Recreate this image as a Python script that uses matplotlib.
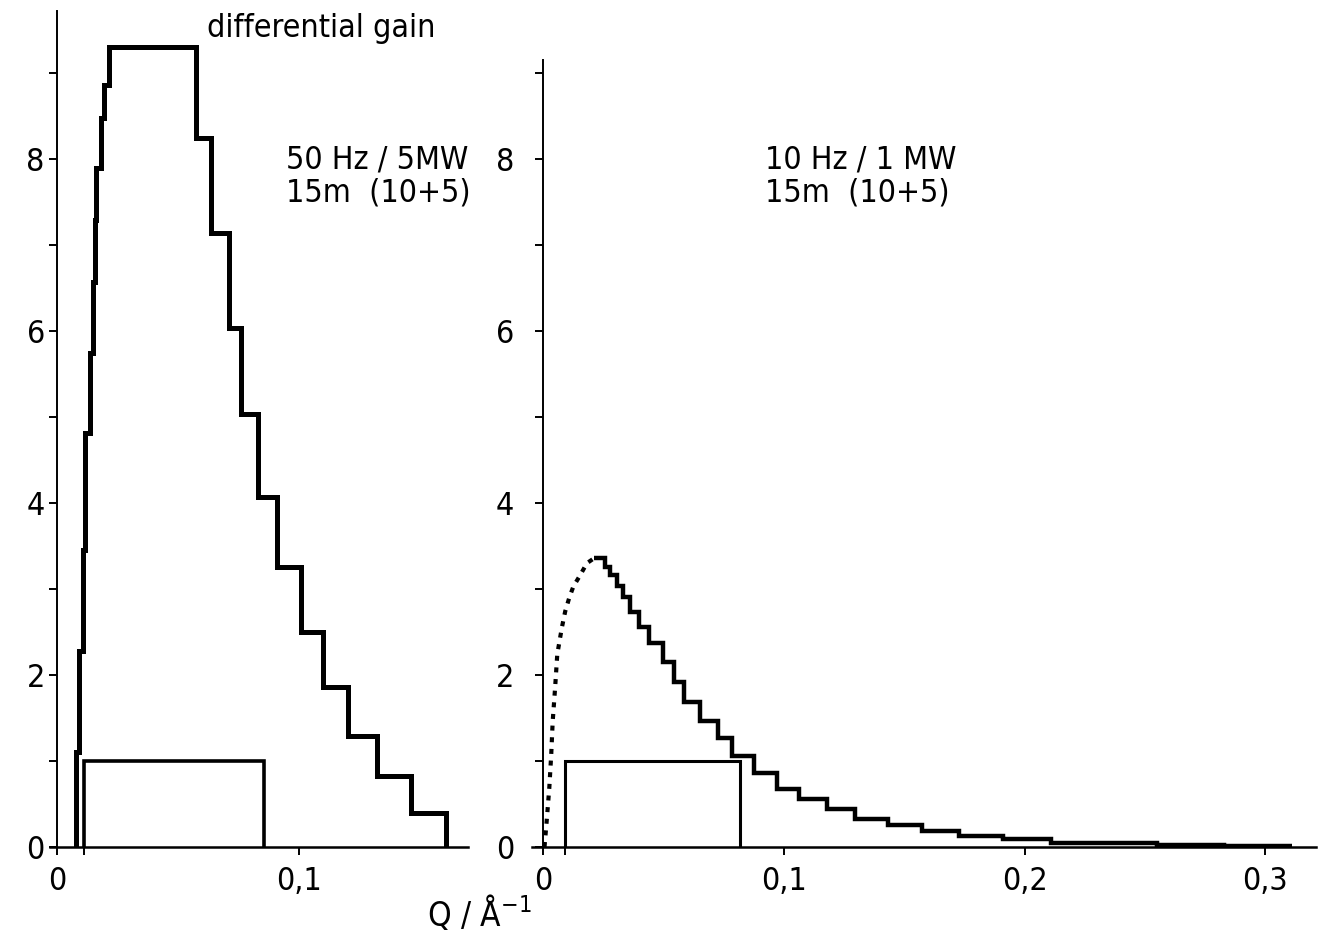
import matplotlib
matplotlib.use("Agg")
import matplotlib.pyplot as plt

# Left panel: 50 Hz / 5 MW
left_edges = [0.0076, 0.0091, 0.0106, 0.0116, 0.0134, 0.0146, 0.0154, 0.0162, 0.0179,
              0.0193, 0.0212, 0.0573, 0.0637, 0.0711, 0.0759, 0.0829, 0.0910, 0.1007,
              0.1098, 0.1204, 0.1325, 0.1466, 0.1610]
left_gain = [1.10, 2.28, 3.45, 4.81, 5.74, 6.57, 7.29, 7.90, 8.48, 8.86, 9.30, 8.24,
             7.14, 6.03, 5.03, 4.07, 3.26, 2.50, 1.86, 1.29, 0.82, 0.39]
left_rect = [0.0109, 0.0855]

# Right panel: 10 Hz / 1 MW
right_edges = [0.0213, 0.0258, 0.0278, 0.0306, 0.0334, 0.0361, 0.0400, 0.0438, 0.0497,
               0.0544, 0.0586, 0.0652, 0.0728, 0.0785, 0.0876, 0.0973, 0.1062, 0.1181,
               0.1296, 0.1432, 0.1575, 0.1727, 0.1911, 0.2108, 0.255, 0.283, 0.311]
right_gain = [3.36, 3.26, 3.16, 3.04, 2.91, 2.73, 2.56, 2.37, 2.15, 1.92, 1.69, 1.46,
              1.27, 1.06, 0.86, 0.68, 0.56, 0.44, 0.33, 0.25, 0.19, 0.125, 0.095,
              0.05, 0.025, 0.01]
right_rect = [0.0092, 0.0820]

# dotted rising part (right panel)
dot_q = [0.0006, 0.0015, 0.0026, 0.0034, 0.0040, 0.0050, 0.0059, 0.0078, 0.0092,
         0.0109, 0.0126, 0.0154, 0.0182, 0.0213]
dot_g = [0.0, 0.30, 0.69, 1.08, 1.46, 1.85, 2.24, 2.55, 2.74, 2.90, 3.03, 3.16, 3.30, 3.36]

plt.rcParams["font.family"] = "DejaVu Sans"
plt.rcParams["font.stretch"] = "condensed"

fig = plt.figure(figsize=(13.24, 9.36), dpi=100)
ax1 = fig.add_axes([0.0378, 0.0951, 0.3157, 0.893])
ax2 = fig.add_axes([0.4018, 0.0951, 0.5921, 0.893])

for ax in (ax1, ax2):
    ax.spines["top"].set_visible(False)
    ax.spines["right"].set_visible(False)
    ax.spines["left"].set_position(("data", 0))
    ax.spines["left"].set_linewidth(1.4)
    ax.spines["bottom"].set_linewidth(1.8)
    ax.set_ylim(0, 9.72)
    ax.set_yticks(range(0, 10))
    ax.set_yticklabels([str(i) if i % 2 == 0 else "" for i in range(0, 10)])
    ax.tick_params(axis="both", direction="out", length=6, width=1.4,
                   labelsize=23, pad=8)

ax1.tick_params(axis="y", pad=3)
ax2.tick_params(axis="y", pad=15)

ax1.set_xlim(-0.003, 0.17)
ax2.set_xlim(-0.0046, 0.321)
ax2.spines["left"].set_bounds(0, 9.15)

ax1.set_xticks([0, left_rect[0], 0.1])
ax1.set_xticklabels(["0", "", "0,1"])
ax2.set_xticks([0, right_rect[0], 0.1, 0.2, 0.3])
ax2.set_xticklabels(["0", "", "0,1", "0,2", "0,3"])

# histograms
ax1.stairs(left_gain, left_edges, baseline=0, color="black", lw=3.6)
ax1.stairs([1.0], left_rect, baseline=0, color="black", lw=2.6)

ax2.plot(dot_q, dot_g, color="black", lw=3.0, linestyle=(0, (1.2, 1.6)))
ax2.stairs(right_gain, right_edges, baseline=None, color="black", lw=3.2)
ax2.stairs([1.0], right_rect, baseline=0, color="black", lw=2.2)

# annotations
ax1.text(0.062, 9.52, "differential gain", fontsize=23, va="center", ha="left")
ax1.text(0.0945, 7.99, "50 Hz / 5MW", fontsize=23, va="center", ha="left")
ax1.text(0.0945, 7.60, "15m  (10+5)", fontsize=23, va="center", ha="left")
ax2.text(0.0922, 7.99, "10 Hz / 1 MW", fontsize=23, va="center", ha="left")
ax2.text(0.0922, 7.60, "15m  (10+5)", fontsize=23, va="center", ha="left")

fig.text(0.362, 0.025, "Q / Å$^{-1}$", fontsize=24, ha="center", va="center")

fig.savefig("out.png", dpi=100)
